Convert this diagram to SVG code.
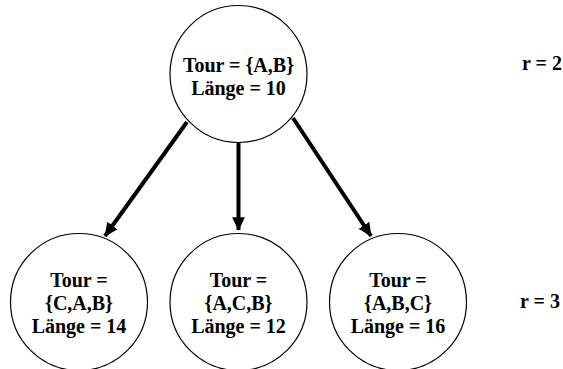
<svg xmlns="http://www.w3.org/2000/svg" width="563" height="369" viewBox="0 0 563 369">
<defs>
<style>
.node{fill:#fff;stroke:#000;stroke-width:1.2}
.t{font-family:'Liberation Serif','Times New Roman','DejaVu Serif',serif;font-weight:bold;font-size:20px;text-anchor:middle;fill:#000}
.lbl{font-family:'Liberation Serif','Times New Roman','DejaVu Serif',serif;font-weight:bold;font-size:20px;fill:#000}
.edge{stroke:#000;stroke-width:4;fill:none;marker-end:url(#ah)}
</style>
<marker id="ah" markerWidth="4" markerHeight="4" refX="3.2" refY="2" orient="auto" markerUnits="strokeWidth">
<path d="M0,0.4 L3.4,2 L0,3.6 Z" fill="#000"/>
</marker>
</defs>
<rect width="563" height="369" fill="#fff"/>
<g id="connectors">
<line class="edge" x1="187" y1="122" x2="105" y2="236"/>
<line class="edge" x1="238.5" y1="143" x2="238.5" y2="230"/>
<line class="edge" x1="293" y1="118" x2="371" y2="236"/>
</g>
<g id="n_root">
<circle class="node" cx="238.5" cy="74" r="68.5"/>
<text class="t" x="238.5" y="72">Tour = {A,B}</text>
<text class="t" x="238.5" y="95">Länge = 10</text>
</g>
<g id="n_cab">
<circle class="node" cx="79" cy="302" r="68.5"/>
<text class="t" x="79" y="287">Tour =</text>
<text class="t" x="79" y="310">{C,A,B}</text>
<text class="t" x="79" y="333">Länge = 14</text>
</g>
<g id="n_acb">
<circle class="node" cx="238.5" cy="302" r="68.5"/>
<text class="t" x="238.5" y="287">Tour =</text>
<text class="t" x="238.5" y="310">{A,C,B}</text>
<text class="t" x="238.5" y="333">Länge = 12</text>
</g>
<g id="n_abc">
<circle class="node" cx="398" cy="302" r="68.5"/>
<text class="t" x="398" y="287">Tour =</text>
<text class="t" x="398" y="310">{A,B,C}</text>
<text class="t" x="398" y="333">Länge = 16</text>
</g>
<g id="labels">
<text class="lbl" x="522" y="70">r = 2</text>
<text class="lbl" x="520" y="308">r = 3</text>
</g>
</svg>
